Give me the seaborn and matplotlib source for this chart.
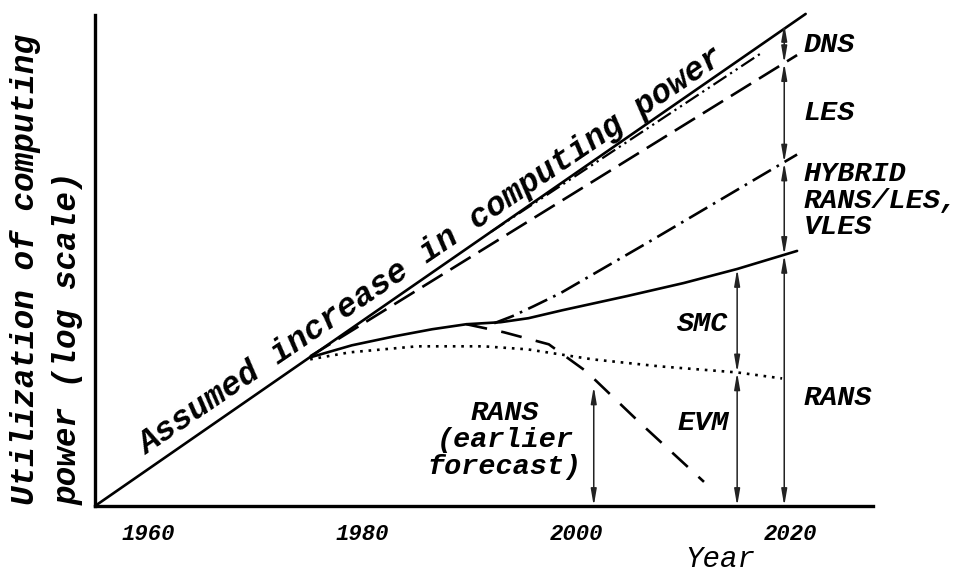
import numpy as np
import pandas as pd
import seaborn as sns
import matplotlib.pyplot as plt

# years on x, "log of computing power" (arbitrary units) on y
power_years = [1955, 2021.4]
power_level = [0.0, 49.0]

les_years = [1975.1, 2020.6]
les_level = [14.9, 44.9]

dns_years = [1992.0, 2017.4]
dns_level = [27.3, 45.2]

hybrid_years = [1992.3, 1994.0, 1996.0, 1998.5, 2006.6, 2020.6]
hybrid_level = [18.2, 18.9, 19.9, 21.2, 26.2, 35.0]

smc_years = [1975.1, 1979.0, 1983.0, 1986.5, 1989.7, 1992.9, 1995.5, 1998.7, 2004.7, 2010.0, 2015.0, 2020.6]
smc_level = [14.8, 16.0, 16.9, 17.6, 18.1, 18.3, 18.7, 19.5, 20.9, 22.2, 23.6, 25.4]

rans_years = [1975.1, 1978.8, 1985.1, 1991.3, 1995.4, 2001.5, 2007.8, 2015.0, 2019.2]
rans_level = [14.6, 15.3, 15.9, 15.9, 15.6, 14.6, 13.9, 13.3, 12.7]

forecast_years = [1989.7, 1993.2, 1997.4, 2000.9, 2005.9, 2011.9]
forecast_level = [18.1, 17.3, 16.1, 13.4, 8.3, 2.4]

# double headed arrows: (year, bottom, top)
arrows = [
    (2001.6, 0.0, 11.9),
    (2015.0, 13.3, 23.6),
    (2015.0, 0.0, 13.3),
    (2019.4, 44.1, 48.0),
    (2019.4, 34.2, 44.1),
    (2019.4, 25.0, 34.2),
    (2019.4, 0.0, 25.0),
]

tick_years = [1960, 1970, 1980, 1990, 2000, 2010, 2020]
tick_labels = ['1960', '', '1980', '', '2000', '', '2020']

sns.set_theme(style='white')
plt.rcParams['font.family'] = ['Liberation Mono', 'DejaVu Sans Mono']
plt.rcParams['font.style'] = 'italic'
plt.rcParams['font.weight'] = 'bold'
plt.rcParams['text.color'] = 'black'
plt.rcParams['axes.labelcolor'] = 'black'
plt.rcParams['xtick.color'] = 'black'

fig = plt.figure(figsize=(9.57, 5.74), dpi=100)
ax = fig.add_axes([0.0993, 0.1185, 0.813, 0.8555])

lw = 1.9
sns.lineplot(x=power_years, y=power_level, ax=ax, color='black', lw=lw, clip_on=False)
sns.lineplot(x=les_years, y=les_level, ax=ax, color='black', lw=lw, linestyle=(0, (9, 3.5)), clip_on=False)
sns.lineplot(x=dns_years, y=dns_level, ax=ax, color='black', lw=1.6, linestyle=(0, (7, 2, 1, 2, 1, 2)))
sns.lineplot(x=hybrid_years, y=hybrid_level, ax=ax, color='black', lw=lw, linestyle=(0, (8, 2.5, 1, 2.5)), clip_on=False)
sns.lineplot(x=smc_years, y=smc_level, ax=ax, color='black', lw=lw, clip_on=False)
sns.lineplot(x=rans_years, y=rans_level, ax=ax, color='black', lw=lw, linestyle=(0, (1, 2.2)))
sns.lineplot(x=forecast_years, y=forecast_level, ax=ax, color='black', lw=lw, linestyle=(0, (8, 5.5)))

for yr, lo, hi in arrows:
    ax.annotate('', xy=(yr, hi), xytext=(yr, lo),
                arrowprops=dict(arrowstyle='<|-|>,head_length=0.7,head_width=0.12',
                                color='#222222', lw=1.1, shrinkA=0, shrinkB=0,
                                mutation_scale=14))

ax.set_xlim(1955, 2027.7)
ax.set_ylim(0, 48.9)
ax.set_yticks([])
ax.set_xticks(tick_years)
ax.set_xticklabels(tick_labels, fontsize=16, fontweight='bold', style='italic')
ax.tick_params(axis='x', direction='in', length=18, width=1.2, color='black', pad=13)
ax.xaxis.get_major_ticks()[-1].tick1line.set_visible(False)
for side in ['top', 'right']:
    ax.spines[side].set_visible(False)
for side in ['left', 'bottom']:
    ax.spines[side].set_linewidth(2.4)
    ax.spines[side].set_color('black')

ax.set_xlabel('Year', fontsize=21)
ax.xaxis.set_label_coords(0.803, -0.08)

fig.text(26 / 957, 69 / 574, 'Utilization of computing', rotation=90,
         ha='center', va='bottom', fontsize=23.5)
fig.text(68 / 957, 69 / 574, 'power (log scale)', rotation=90,
         ha='center', va='bottom', fontsize=23.5)

ax.text(1959.8, 5.1, 'Assumed increase in computing power', rotation=34.2,
        rotation_mode='anchor', ha='left', va='baseline', fontsize=24)

lab = dict(fontsize=20.5, ha='left', va='center')
ax.text(2021.2, 45.9, 'DNS', **lab)
ax.text(2021.2, 39.1, 'LES', **lab)
ax.text(2021.2, 33.1, 'HYBRID', **lab)
ax.text(2021.2, 30.4, 'RANS/LES,', **lab)
ax.text(2021.2, 27.8, 'VLES', **lab)
ax.text(2021.2, 10.8, 'RANS', **lab)
ax.text(2011.8, 18.1, 'SMC', fontsize=20.5, ha='center', va='center')
ax.text(2011.8, 8.3, 'EVM', fontsize=20.5, ha='center', va='center')
ax.text(1993.3, 6.6, 'RANS\n(earlier\nforecast)', fontsize=20.5, ha='center',
        va='center', linespacing=1.05)

fig.savefig('out.png', dpi=100, facecolor='white')
